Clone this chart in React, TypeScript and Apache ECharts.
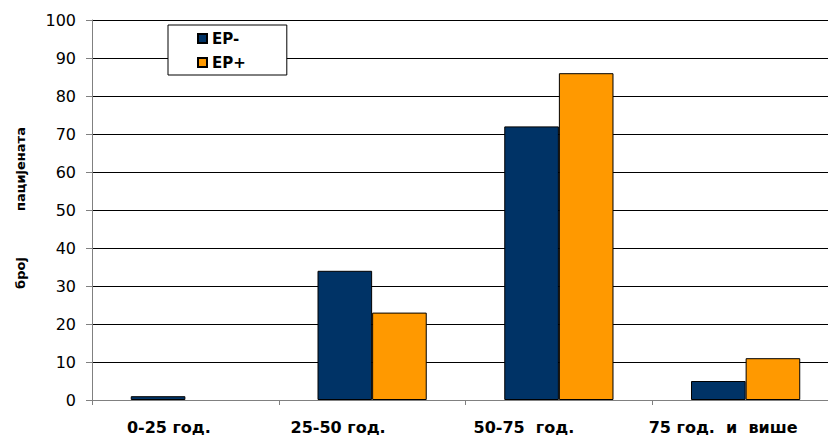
import React, { useEffect, useRef } from "react";
import * as echarts from "echarts";

const categories = ["0-25 год.", "25-50 год.", "50-75  год.", "75 год.  и  више"];
const epMinus = [1, 34, 72, 5];
const epPlus = [0, 23, 86, 11];
const yTicks = [0, 10, 20, 30, 40, 50, 60, 70, 80, 90, 100];
const yTitleWords = ["број", "пацијената"];

// right padding (px) per category label to shift label centres like the reference
const labelShift = [33, 68, 70, 45];

const FONT = "DejaVu Sans";

export default function App() {
  const ref = useRef<HTMLDivElement>(null);
  useEffect(() => {
    if (!ref.current) return;
    const chart = echarts.init(ref.current, null, { renderer: "svg" });
    const rich: Record<string, any> = {};
    labelShift.forEach((p, i) => {
      rich["c" + i] = {
        fontFamily: FONT,
        fontWeight: "bold",
        fontSize: 16,
        color: "#000",
        padding: [0, p, 0, 0],
      };
    });
    chart.setOption({
      animation: false,
      backgroundColor: "#fff",
      textStyle: { fontFamily: FONT },
      grid: { left: 92, top: 20, width: 747, height: 380, containLabel: false },
      legend: {
        orient: "vertical",
        left: 168,
        top: 25,
        padding: [6, 41, 5, 29],
        itemGap: 9,
        itemWidth: 9,
        itemHeight: 9,
        itemTextGap: 6,
        backgroundColor: "#fff",
        borderColor: "#000",
        borderWidth: 1,
        borderRadius: 0,
        icon: "rect",
        textStyle: { fontWeight: "bold", fontSize: 15, color: "#000", fontFamily: FONT },
        data: ["EP-", "EP+"],
      },
      xAxis: {
        type: "category",
        data: categories,
        axisLine: { lineStyle: { color: "#808080", width: 1 } },
        axisTick: { show: true, length: 5, lineStyle: { color: "#808080" } },
        axisLabel: {
          margin: 19,
          interval: 0,
          formatter: (v: string) => {
            const i = categories.indexOf(v);
            return "{c" + i + "|" + v + "}";
          },
          rich,
        },
        splitLine: { show: false },
      },
      yAxis: {
        type: "value",
        min: yTicks[0],
        max: yTicks[yTicks.length - 1],
        interval: 10,
        axisLine: { show: true, lineStyle: { color: "#808080", width: 1 } },
        axisTick: { show: true, length: 6, lineStyle: { color: "#808080" } },
        axisLabel: { margin: 16, fontSize: 16, color: "#000", fontFamily: FONT },
        splitLine: { show: true, lineStyle: { color: "#000", width: 1 } },
      },
      series: [
        {
          name: "EP-",
          type: "bar",
          data: epMinus.map((v) => (v === 0 ? "-" : v)),
          barGap: "0%",
          barCategoryGap: "41.5%",
          itemStyle: { color: "#003366", borderColor: "#000", borderWidth: 1 },
        },
        {
          name: "EP+",
          type: "bar",
          data: epPlus.map((v) => (v === 0 ? "-" : v)),
          itemStyle: { color: "#FF9900", borderColor: "#000", borderWidth: 1 },
        },
      ],
      graphic: [
        {
          type: "text",
          x: 20,
          y: 273,
          rotation: Math.PI / 2,
          style: {
            text: yTitleWords[0],
            fontFamily: FONT,
            fontWeight: "bold",
            fontSize: 13,
            fill: "#000",
            align: "center",
            verticalAlign: "middle",
          },
        },
        {
          type: "text",
          x: 20,
          y: 169,
          rotation: Math.PI / 2,
          style: {
            text: yTitleWords[1],
            fontFamily: FONT,
            fontWeight: "bold",
            fontSize: 13,
            fill: "#000",
            align: "center",
            verticalAlign: "middle",
          },
        },
      ],
    });
    return () => chart.dispose();
  }, []);
  return (
    <div style={{ position: "fixed", left: 0, top: 0, width: 828, height: 435, overflow: "hidden", background: "#fff" }}>
      <div ref={ref} style={{ width: 860, height: 435 }} />
    </div>
  );
}
